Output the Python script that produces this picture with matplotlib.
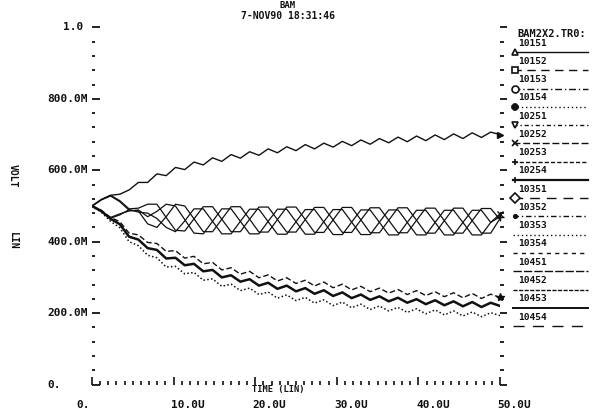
import numpy as np
import matplotlib
matplotlib.use("Agg")
import matplotlib.pyplot as plt
from matplotlib import transforms
from matplotlib.ticker import MultipleLocator

# transient run BAM2X2.TR0, 0..50us, 45 samples
t_us = np.linspace(0, 50, 45)

v_upper = [0.500, 0.518, 0.530, 0.533, 0.545, 0.566, 0.566, 0.590, 0.585, 0.608,
           0.602, 0.623, 0.615, 0.635, 0.625, 0.644, 0.634, 0.652, 0.642, 0.660,
           0.649, 0.666, 0.655, 0.672, 0.660, 0.676, 0.665, 0.681, 0.669, 0.685,
           0.673, 0.689, 0.677, 0.693, 0.680, 0.696, 0.683, 0.699, 0.686, 0.702,
           0.689, 0.705, 0.692, 0.707, 0.700]

v_mid_a = [0.500, 0.518, 0.530, 0.515, 0.492, 0.494, 0.505, 0.505, 0.468, 0.432,
           0.430, 0.464, 0.498, 0.498, 0.463, 0.428, 0.428, 0.463, 0.497, 0.497,
           0.462, 0.427, 0.427, 0.462, 0.496, 0.496, 0.461, 0.426, 0.426, 0.461,
           0.495, 0.495, 0.460, 0.425, 0.425, 0.460, 0.494, 0.494, 0.459, 0.424,
           0.424, 0.459, 0.493, 0.493, 0.462]
v_mid_b = [0.500, 0.517, 0.528, 0.512, 0.488, 0.486, 0.450, 0.440, 0.470, 0.505,
           0.500, 0.464, 0.428, 0.428, 0.463, 0.498, 0.498, 0.463, 0.427, 0.427,
           0.462, 0.497, 0.497, 0.462, 0.426, 0.426, 0.461, 0.496, 0.496, 0.461,
           0.425, 0.425, 0.460, 0.495, 0.495, 0.460, 0.424, 0.424, 0.459, 0.494,
           0.494, 0.459, 0.424, 0.424, 0.465]
v_mid_c = [0.500, 0.484, 0.468, 0.478, 0.486, 0.489, 0.470, 0.485, 0.505, 0.500,
           0.462, 0.424, 0.422, 0.457, 0.492, 0.492, 0.457, 0.422, 0.422, 0.457,
           0.491, 0.491, 0.456, 0.421, 0.421, 0.456, 0.490, 0.490, 0.455, 0.420,
           0.420, 0.455, 0.489, 0.489, 0.454, 0.419, 0.419, 0.454, 0.488, 0.488,
           0.454, 0.419, 0.419, 0.454, 0.478]
v_mid_d = [0.500, 0.485, 0.466, 0.475, 0.490, 0.483, 0.480, 0.465, 0.440, 0.428,
           0.458, 0.492, 0.492, 0.457, 0.422, 0.422, 0.457, 0.491, 0.491, 0.456,
           0.421, 0.421, 0.456, 0.490, 0.490, 0.455, 0.420, 0.420, 0.455, 0.489,
           0.489, 0.454, 0.419, 0.419, 0.454, 0.488, 0.488, 0.454, 0.419, 0.419,
           0.454, 0.488, 0.488, 0.454, 0.470]

v_low_dash = [0.500, 0.488, 0.468, 0.456, 0.424, 0.419, 0.398, 0.395, 0.373, 0.375,
              0.354, 0.359, 0.338, 0.342, 0.321, 0.327, 0.309, 0.317, 0.299, 0.307,
              0.290, 0.299, 0.283, 0.292, 0.276, 0.287, 0.271, 0.281, 0.265, 0.275,
              0.260, 0.270, 0.256, 0.266, 0.252, 0.263, 0.249, 0.260, 0.246, 0.257,
              0.243, 0.255, 0.241, 0.253, 0.244]
v_low_solid = [0.500, 0.486, 0.464, 0.449, 0.414, 0.406, 0.382, 0.377, 0.353, 0.355,
               0.334, 0.338, 0.317, 0.321, 0.300, 0.306, 0.288, 0.295, 0.277, 0.285,
               0.268, 0.277, 0.261, 0.270, 0.254, 0.264, 0.248, 0.258, 0.242, 0.252,
               0.237, 0.247, 0.233, 0.243, 0.229, 0.239, 0.225, 0.236, 0.222, 0.233,
               0.219, 0.231, 0.217, 0.229, 0.220]
v_low_dot = [0.500, 0.483, 0.457, 0.439, 0.400, 0.389, 0.362, 0.355, 0.329, 0.331,
             0.310, 0.314, 0.292, 0.296, 0.275, 0.281, 0.263, 0.270, 0.252, 0.259,
             0.242, 0.251, 0.235, 0.244, 0.228, 0.237, 0.221, 0.231, 0.215, 0.225,
             0.210, 0.220, 0.206, 0.216, 0.202, 0.212, 0.198, 0.209, 0.195, 0.206,
             0.192, 0.203, 0.190, 0.201, 0.193]

x_ticks = [0, 10, 20, 30, 40, 50]
x_labels = ["0.", "10.0U", "20.0U", "30.0U", "40.0U", "50.0U"]
y_ticks = [0.0, 0.2, 0.4, 0.6, 0.8, 1.0]
y_labels = ["0.", "200.0M", "400.0M", "600.0M", "800.0M", "1.0"]

legend_names = ["10151", "10152", "10153", "10154", "10251", "10252", "10253", "10254",
                "10351", "10352", "10353", "10354", "10451", "10452", "10453", "10454"]
legend_styles = ['-', (0, (6, 4)), (0, (5, 2, 1, 2)), (0, (1, 2)), (0, (3, 2, 1, 2)),
                 (0, (5, 2)), (0, (3, 1.5)), '-', (0, (7, 5)), (0, (4, 2, 1, 2)),
                 (0, (1, 2)), (0, (3, 3)), (0, (6, 1.5)), (0, (3, 1)), '-', (0, (8, 6))]
legend_marks = ['^', 's', 'o', '8', 'v', 'x', '+', '|', 'D', '.',
                None, None, None, None, None, None]

FONT = "DejaVu Sans Mono"
INK = "#111111"

fig = plt.figure(figsize=(5.99, 4.15), dpi=100)
W, H = 599, 415
ax = fig.add_axes([92 / W, 1 - 384.5 / H, 408 / W, 357 / H])
ax.set_xlim(0, 50)
ax.set_ylim(0, 1)
for s in ax.spines.values():
    s.set_visible(False)
ax.patch.set_alpha(0)

ax.xaxis.set_major_locator(MultipleLocator(10))
ax.xaxis.set_minor_locator(MultipleLocator(1))
ax.yaxis.set_major_locator(MultipleLocator(0.2))
ax.yaxis.set_minor_locator(MultipleLocator(0.04))
ax.tick_params(axis='x', which='both', direction='in', labelbottom=False, width=1.2, color=INK)
ax.tick_params(axis='x', which='major', length=6)
ax.tick_params(axis='x', which='minor', length=3)
ax.tick_params(axis='y', which='both', direction='in', labelleft=False, width=1.3, color=INK)
ax.tick_params(axis='y', which='major', length=5.5)
ax.tick_params(axis='y', which='minor', length=2.5)

ax_r = ax.twinx()
ax_r.set_ylim(0, 1)
for s in ax_r.spines.values():
    s.set_visible(False)
ax_r.yaxis.set_major_locator(MultipleLocator(0.2))
ax_r.yaxis.set_minor_locator(MultipleLocator(0.04))
ax_r.tick_params(axis='y', which='both', direction='out', labelright=False, width=1.3, color=INK)
ax_r.tick_params(axis='y', which='major', length=5)
ax_r.tick_params(axis='y', which='minor', length=3)

# curves
ax.plot(t_us, v_upper, color=INK, lw=1.0)
for v in (v_mid_a, v_mid_b, v_mid_c, v_mid_d):
    ax.plot(t_us, v, color=INK, lw=0.9)
ax.plot(t_us, v_low_dash, color=INK, lw=1.0, ls=(0, (4, 2)))
ax.plot(t_us, v_low_solid, color=INK, lw=1.8)
ax.plot(t_us, v_low_dot, color=INK, lw=1.1, ls=(0, (1, 1.5)))

# end-point symbols
ax.plot(t_us[-1], v_upper[-1], marker='>', ms=4, color=INK, clip_on=False)
ax.plot(t_us[-1], v_mid_c[-1], marker='x', ms=5, color=INK, clip_on=False)
ax.plot(t_us[-1], v_mid_d[-1], marker='+', ms=6, color=INK, clip_on=False)
ax.plot(t_us[-1], v_low_dash[-1], marker='*', ms=6, color=INK, clip_on=False)

# overlay in pixel units for text / legend
over = fig.add_axes([0, 0, 1, 1])
over.set_xlim(0, W)
over.set_ylim(H, 0)
over.axis('off')
over.patch.set_alpha(0)

txt = dict(family=FONT, weight='bold', color=INK)

ytr = transforms.blended_transform_factory(over.transData, ax.transData)
for val, lab in zip(y_ticks, y_labels):
    x0 = 63 if lab == "1.0" else 47
    over.text(x0, val, lab, transform=ytr, ha='left', va='center', fontsize=8, **txt)

xtr = transforms.blended_transform_factory(ax.transData, over.transData)
for val, lab in zip(x_ticks, x_labels):
    x0 = val - 1.9 if lab == "0." else val - 0.3
    over.text(x0, 405, lab, transform=xtr, ha='left', va='center', fontsize=8, **txt)

over.text(278, 389, "TIME (LIN)", ha='center', va='center', fontsize=6.3, **txt)
over.text(288, 6, "BAM", ha='center', va='center', fontsize=6.5, **txt)
over.text(288, 16, "7-NOV90 18:31:46", ha='center', va='center', fontsize=7, **txt)
over.text(13, 176, "VOLT", rotation=-90, ha='center', va='center', fontsize=7, **txt)
over.text(13, 241, "LIN", rotation=-90, ha='center', va='center', fontsize=7, **txt)

# legend
over.text(517, 34, "BAM2X2.TR0:", ha='left', va='center', fontsize=7.5, **txt)
for i, name in enumerate(legend_names):
    yl = 43 + 18.27 * i
    over.text(518, yl, name, ha='left', va='center', fontsize=6.8, **txt)
    lw = 1.6 if name == "10254" else (1.4 if name == "10453" else 1.0)
    over.plot([513, 588], [yl + 9, yl + 9], color=INK, lw=lw, ls=legend_styles[i])
    if legend_marks[i] is not None:
        over.plot(515, yl + 9, marker=legend_marks[i], ms=5, color=INK,
                  mfc='white' if legend_marks[i] in ('^', 's', 'o', 'v', 'D') else INK,
                  mew=1.2)

fig.savefig("out.png", dpi=100, facecolor='white')
